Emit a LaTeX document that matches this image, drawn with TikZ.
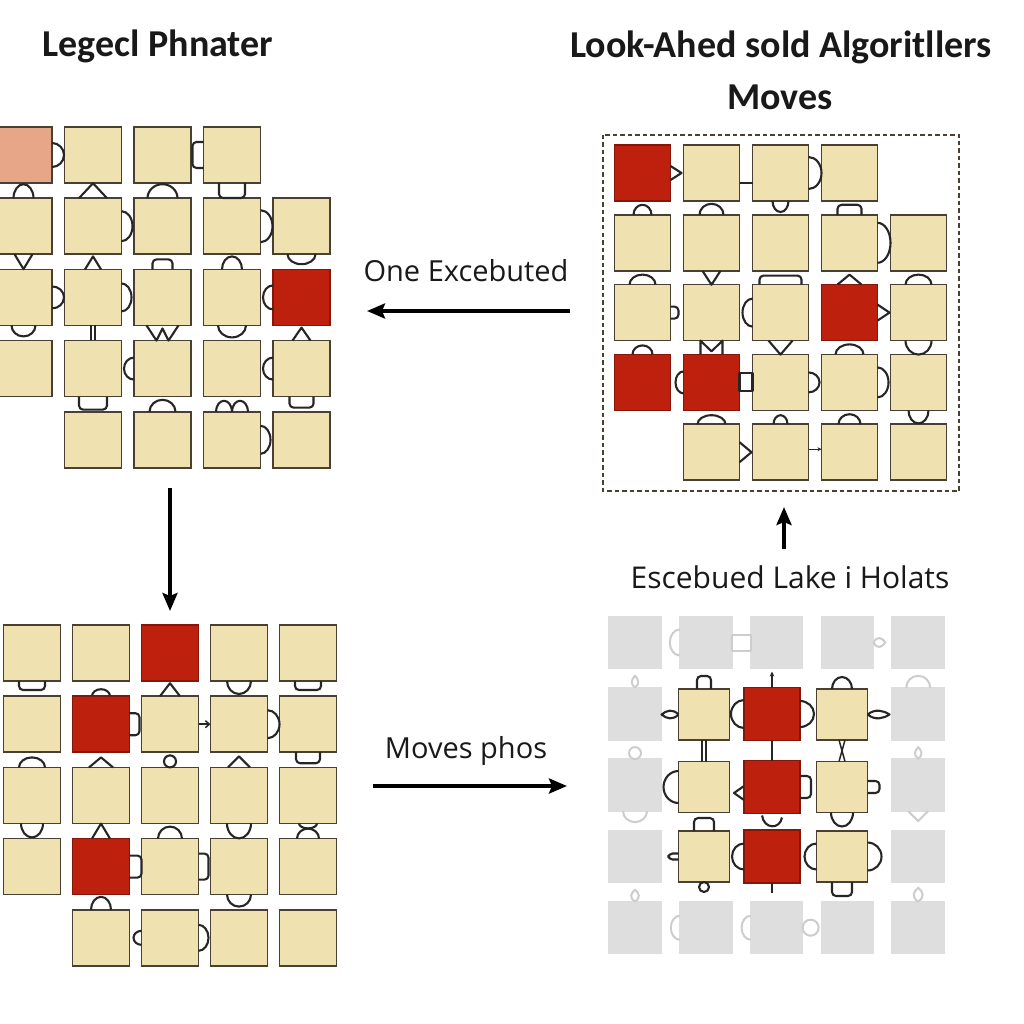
\documentclass[tikz,border=0pt]{standalone}
\usepackage{fontspec}
\setmainfont{Carlito}
\newfontfamily\lblfont{Open Sans}
\usetikzlibrary{arrows.meta,calc}
\definecolor{sqbeige}{RGB}{239,226,176}
\definecolor{sqred}{RGB}{190,32,14}
\definecolor{sqpink}{RGB}{232,166,136}
\definecolor{sqgray}{RGB}{222,222,222}
\definecolor{gytab}{RGB}{205,205,205}
\definecolor{sqborder}{RGB}{72,64,50}
\definecolor{tabcol}{RGB}{38,38,38}
\definecolor{txt}{RGB}{25,25,25}
\tikzset{
  x=1pt, y=-1pt,
  sq/.style={draw=sqborder, line width=1.5pt, inner sep=0pt, outer sep=0pt,
    minimum width=57pt, minimum height=56pt},
  bg/.style={fill=sqbeige},
  rd/.style={fill=sqred, draw=sqred!70!black},
  pk/.style={fill=sqpink},
  gy/.style={fill=sqgray, draw=sqgray, minimum width=52pt, minimum height=52pt},
  tabline/.style={draw=tabcol, line width=2.1pt, line join=round},
  bigarrow/.style={draw=black, line width=3.6pt, -{Stealth[length=18pt,width=15pt,inset=3pt]}},
  title/.style={font=\bfseries\fontsize{38}{44}\selectfont, text=txt, inner sep=0pt},
  lbl/.style={font=\lblfont\fontsize{29}{34}\selectfont, text=txt, inner sep=0pt},
  pics/bulge/.style 2 args={code={\draw[tabline] (0,-#2) arc[start angle=-90,end angle=90,x radius=#1,y radius=#2];}},
  pics/tri/.style 2 args={code={\draw[tabline] (0,-#2) -- (#1,0) -- (0,#2);}},
  pics/rtab/.style 2 args={code={\draw[tabline,rounded corners=4pt] (0,-#2) -- (#1,-#2) -- (#1,#2) -- (0,#2);}},
  pics/dbl/.style={code={\draw[tabline,line width=1.5pt] (0,-2) -- (#1,-2) (0,2) -- (#1,2);}},
  pics/ring/.style={code={\draw[tabline] (#1,0) circle[radius=#1];}},
  pics/leaf/.style 2 args={code={\draw[tabline] (0,0) .. controls (#1*0.35,-#2) and (#1*0.7,-#2*0.7) .. (#1,0) .. controls (#1*0.7,#2*0.7) and (#1*0.35,#2) .. (0,0);}},
}
\begin{document}
\begin{tikzpicture}
\useasboundingbox (0,0) rectangle (1024,1024);
\fill[white] (0,0) rectangle (1024,1024);
\clip (0,0) rectangle (1024,1024);

% ---------------- Titles and labels
\node[title] (t1) at (158,46) {Legecl Phnater};
\node[title] (t2) at (781,47) {Look-Ahed sold Algoritllers};
\node[title] (t3) at (780,97) {Moves};
\node[lbl] (l1) at (466,271) {One Excebuted};
\node[lbl] (l2) at (466,751) {Moves phos};
\node[lbl,font=\lblfont\fontsize{30}{34}\selectfont] (l3) at (790,577) {Escebued Lake i Holats};

% ---------------- Grid A (top left)
\foreach \c/\r/\s in {0/0/pk,1/0/bg,2/0/bg,3/0/bg,
  0/1/bg,1/1/bg,2/1/bg,3/1/bg,4/1/bg,
  0/2/bg,1/2/bg,2/2/bg,3/2/bg,4/2/rd,
  0/3/bg,1/3/bg,2/3/bg,3/3/bg,4/3/bg,
  1/4/bg,2/4/bg,3/4/bg,4/4/bg}
  \node[sq,\s] (A\r\c) at ({23.5+69.5*\c},{155+71.2*\r}) {};

\pic at (A00.east) {bulge={12}{12}};
\pic[rotate=180] at (A03.west) {rtab={11}{13}};
\pic[rotate=270] at (A03.south) {rtab={15}{13}};
\pic[rotate=90] at (A10.north) {bulge={14}{10}};
\pic[rotate=90] at (A11.north) {tri={15}{14}};
\pic[rotate=90] at (A12.north) {bulge={14}{15}};
\pic at (A11.east) {bulge={11}{15}};
\pic at (A13.east) {bulge={12}{16}};
\pic[rotate=270] at (A10.south) {tri={15}{9}};
\pic[rotate=90] at (A21.north) {tri={13}{8}};
\pic[rotate=90] at (A22.north) {rtab={10}{10}};
\pic[rotate=90] at (A23.north) {bulge={13}{10}};
\pic[rotate=270] at (A14.south) {bulge={10}{14}};
\pic at (A20.east) {bulge={12}{11}};
\pic at (A21.east) {bulge={10}{14}};
\pic[rotate=180] at (A24.west) {bulge={10}{12}};
\pic[rotate=270] at (A20.south) {bulge={11}{12}};
\pic[rotate=270] at (A21.south) {dbl={15}};
\draw[tabline] ($(A22.south)+(-16,0)$) -- ($(A32.north)+(-6,0)$) -- ($(A22.south)+(0,3)$)
  -- ($(A32.north)+(6,0)$) -- ($(A22.south)+(16,0)$);
\pic[rotate=270] at (A23.south) {bulge={12}{14}};
\pic[rotate=90] at (A34.north) {tri={13}{9}};
\pic[rotate=180] at (A32.west) {bulge={10}{11}};
\pic[rotate=180] at (A34.west) {bulge={10}{11}};
\pic[rotate=270] at (A31.south) {rtab={13}{14}};
\pic[rotate=90] at (A42.north) {bulge={12}{13}};
\pic[rotate=90] at ($(A43.north)+(-8,0)$) {bulge={11}{8}};
\pic[rotate=90] at ($(A43.north)+(8,0)$) {bulge={11}{8}};
\pic[rotate=270] at (A34.south) {rtab={11}{12}};
\pic at (A43.east) {bulge={10}{14}};

% ---------------- Grid B (top right)
\draw[sqborder, line width=1.5pt, dash pattern=on 4.5pt off 3pt] (603,135) rectangle (959,491);
\foreach \c/\r/\s in {0/0/rd,1/0/bg,2/0/bg,3/0/bg,
  0/1/bg,1/1/bg,2/1/bg,3/1/bg,4/1/bg,
  0/2/bg,1/2/bg,2/2/bg,3/2/rd,4/2/bg,
  0/3/rd,1/3/rd,2/3/bg,3/3/bg,4/3/bg,
  1/4/bg,2/4/bg,3/4/bg,4/4/bg}
  \node[sq,\s,minimum width=56pt] (B\r\c) at ({642.5+69*\c},{173+69.8*\r}) {};

\pic at (B00.east) {tri={11}{7}};
\draw[tabline] ($(B01.east)+(0,10)$) -- ($(B02.west)+(0,10)$);
\pic at (B02.east) {bulge={13}{16}};
\pic[rotate=90] at (B10.north) {bulge={10}{9}};
\pic[rotate=90] at (B11.north) {bulge={11}{12}};
\pic[rotate=270] at (B02.south) {bulge={11}{8}};
\pic[rotate=90] at (B13.north) {rtab={10}{12}};
\pic at (B13.east) {bulge={13}{20}};
\pic[rotate=90] at (B20.north) {bulge={10}{13}};
\pic[rotate=270] at (B11.south) {tri={14}{9}};
\pic[rotate=90] at (B22.north) {rtab={9}{21}};
\pic[rotate=90] at (B23.north) {tri={10}{12}};
\pic[rotate=90] at (B24.north) {bulge={10}{13}};
\pic at (B20.east) {rtab={8}{6}};
\pic[rotate=180] at (B22.west) {bulge={10}{14}};
\pic at (B23.east) {tri={12}{8}};
\pic[rotate=90] at (B30.north) {bulge={9}{10}};
\draw[tabline] ($(B31.north)+(-11,0)$) -- ($(B21.south)+(-11,0)$) -- ($(B31.north)+(0,-3)$)
  -- ($(B21.south)+(11,0)$) -- ($(B31.north)+(11,0)$);
\pic[rotate=270] at (B22.south) {tri={14}{12}};
\pic[rotate=90] at (B33.north) {bulge={10}{14}};
\pic[rotate=270] at (B24.south) {bulge={14}{13}};
\pic[rotate=180] at (B31.west) {bulge={8}{11}};
\draw[tabline] ($(B31.east)+(0,-9)$) rectangle ($(B32.west)+(0,9)$);
\pic at (B32.east) {bulge={11}{10}};
\pic at (B33.east) {bulge={11}{15}};
\pic[rotate=90] at (B41.north) {bulge={9}{14}};
\pic[rotate=90] at (B42.north) {bulge={9}{7}};
\pic[rotate=90] at (B43.north) {bulge={10}{11}};
\pic[rotate=270] at (B34.south) {bulge={13}{10}};
\pic at (B41.east) {tri={12}{10}};
\draw[tabline,line width=1.2pt,-{Stealth[length=4pt,width=4pt]}] ($(B42.east)+(0,-3)$) -- ($(B43.west)+(0,-3)$);

% ---------------- Grid C (bottom left)
\foreach \c/\r/\s in {0/0/bg,1/0/bg,2/0/rd,3/0/bg,4/0/bg,
  0/1/bg,1/1/rd,2/1/bg,3/1/bg,4/1/bg,
  0/2/bg,1/2/bg,2/2/bg,3/2/bg,4/2/bg,
  0/3/bg,1/3/rd,2/3/bg,3/3/bg,4/3/bg,
  1/4/bg,2/4/bg,3/4/bg,4/4/bg}
  \node[sq,\s] (C\r\c) at ({32+69*\c},{653+71.2*\r}) {};

\pic[rotate=270] at (C00.south) {rtab={9}{13}};
\pic[rotate=90] at (C11.north) {bulge={7}{9}};
\pic[rotate=90] at (C12.north) {tri={13}{10}};
\pic[rotate=270] at (C03.south) {bulge={13}{12}};
\pic[rotate=270] at (C04.south) {rtab={9}{13}};
\pic at (C11.east) {rtab={10}{11}};
\draw[tabline,line width=1.5pt,-{Straight Barb[length=4pt,width=7pt]}] (C12.east) -- (C13.west);
\pic at (C13.east) {bulge={12}{14}};
\pic[rotate=90] at (C20.north) {bulge={10}{13}};
\pic[rotate=90] at (C21.north) {tri={10}{12}};
\pic[rotate=90] at (C22.north) {ring={6}};
\pic[rotate=90] at (C23.north) {tri={11}{11}};
\pic[rotate=270] at (C14.south) {rtab={11}{12}};
\pic[rotate=270] at (C20.south) {bulge={14}{11}};
\pic[rotate=90] at (C31.north) {tri={15}{9}};
\pic[rotate=90] at (C32.north) {bulge={12}{12}};
\pic[rotate=270] at (C23.south) {bulge={15}{12}};
\pic[rotate=90] at (C34.north) {bulge={10}{11}};
\pic[rotate=270] at (C24.south) {bulge={5}{9}};
\pic at (C31.east) {rtab={12}{11}};
\pic at (C32.east) {rtab={10}{13}};
\pic[rotate=90] at (C41.north) {bulge={13}{10}};
\pic[rotate=270] at (C33.south) {bulge={12}{12}};
\pic[rotate=180] at (C42.west) {bulge={8}{7}};
\pic at (C42.east) {bulge={10}{13}};

% ---------------- Grid D (bottom right): grey background grid
\foreach \c/\r in {0/0,1/0,2/0,3/0,4/0, 0/1,4/1, 0/2,4/2, 0/3,4/3, 0/4,1/4,2/4,3/4,4/4}
  \node[sq,gy] (D\r\c) at ({635+70.8*\c},{642.5+71.3*\r}) {};
\begin{scope}[tabline/.style={draw=gytab, line width=2pt, line join=round}]
\pic[rotate=180] at (D01.west) {bulge={10}{13}};
\draw[tabline] ($(D01.east)+(0,-8)$) rectangle ($(D02.west)+(0,8)$);
\pic at (D03.east) {leaf={12}{7}};
\pic[rotate=90] at (D10.north) {leaf={12}{5}};
\pic[rotate=90] at (D14.north) {bulge={12}{12}};
\pic[rotate=90] at (D20.north) {ring={6}};
\pic[rotate=90] at (D24.north) {leaf={12}{5}};
\pic[rotate=270] at (D20.south) {bulge={11}{12}};
\pic[rotate=270] at (D24.south) {tri={10}{10}};
\pic[rotate=90] at (D40.north) {leaf={12}{6}};
\pic[rotate=90] at (D44.north) {leaf={14}{7}};
\pic[rotate=180] at (D41.west) {bulge={9}{12}};
\pic[rotate=180] at (D42.west) {bulge={9}{12}};
\pic at (D42.east) {ring={8}};
\end{scope}

% coloured centre of grid D
\foreach \c/\r/\s/\xx/\yy in {1/1/bg/704/714.5, 3/1/bg/842/714.5,
  1/2/bg/704/787, 3/2/bg/842/787,
  1/3/bg/704/856.5, 3/3/bg/842/856.5}
  \node[sq,\s,minimum width=51pt,minimum height=51pt] (Q\r\c) at (\xx,\yy) {};
\foreach \r/\yy in {1/714, 2/787, 3/856.5}
  \node[sq,rd,minimum width=56pt,minimum height=53pt] (Q\r2) at (772,\yy) {};

\pic[rotate=90] at (Q11.north) {rtab={13}{7}};
\coordinate (q12up) at ($(Q12.north)+(0,-16)$);
\draw[tabline,line width=1.5pt,-{Stealth[length=5pt,width=4.5pt]}] (Q12.north) -- (q12up);
\pic[rotate=90] at (Q13.north) {bulge={12}{10}};
\pic[rotate=180] at (Q11.west) {leaf={17}{6}};
\pic[rotate=180] at (Q12.west) {bulge={13}{14}};
\pic at (Q12.east) {bulge={14}{13}};
\pic at (Q13.east) {leaf={22}{6}};
\pic[rotate=270] at (Q11.south) {dbl={22}};
\draw[tabline] (Q12.south) -- (Q22.north);
\draw[tabline,line width=1.5pt] ($(Q13.south)+(-3,0)$) -- ($(Q23.north)+(3,0)$)
  ($(Q13.south)+(3,0)$) -- ($(Q23.north)+(-3,0)$);
\pic[rotate=180] at (Q21.west) {bulge={15}{16}};
\pic[rotate=180] at ($(Q22.west)+(0,6)$) {tri={10}{7}};
\pic at (Q22.east) {rtab={11}{11}};
\pic at (Q23.east) {rtab={12}{6}};
\draw[tabline] ($(Q22.south)+(-10,2)$) .. controls ($(Q22.south)+(-8,16)$) and ($(Q22.south)+(8,16)$) .. ($(Q22.south)+(10,4)$);
\pic[rotate=270] at (Q23.south) {bulge={14}{11}};
\pic[rotate=90] at (Q31.north) {rtab={13}{10}};
\pic[rotate=180] at (Q31.west) {rtab={10}{3}};
\pic[rotate=180] at (Q32.west) {bulge={12}{13}};
\pic[rotate=180] at (Q33.west) {bulge={12}{13}};
\pic at (Q33.east) {bulge={14}{14}};
\pic[rotate=270] at (Q31.south) {ring={5}};
\coordinate (q32dn) at ($(Q32.south)+(0,10)$);
\draw[tabline] (Q32.south) -- (q32dn);
\pic[rotate=270] at (Q33.south) {rtab={14}{10}};

% ---------------- Arrows between panels
\coordinate (oeS) at (570,311); \coordinate (oeE) at (367,311);
\draw[bigarrow] (oeS) -- (oeE);
\coordinate (dnS) at (170,488); \coordinate (dnE) at (170,611);
\draw[bigarrow] (dnS) -- (dnE);
\coordinate (mpS) at (373,786); \coordinate (mpE) at (567,786);
\draw[bigarrow] (mpS) -- (mpE);
\coordinate (upS) at (784,549); \coordinate (upE) at (784,507);
\draw[bigarrow] (upS) -- (upE);
\end{tikzpicture}
\end{document}
